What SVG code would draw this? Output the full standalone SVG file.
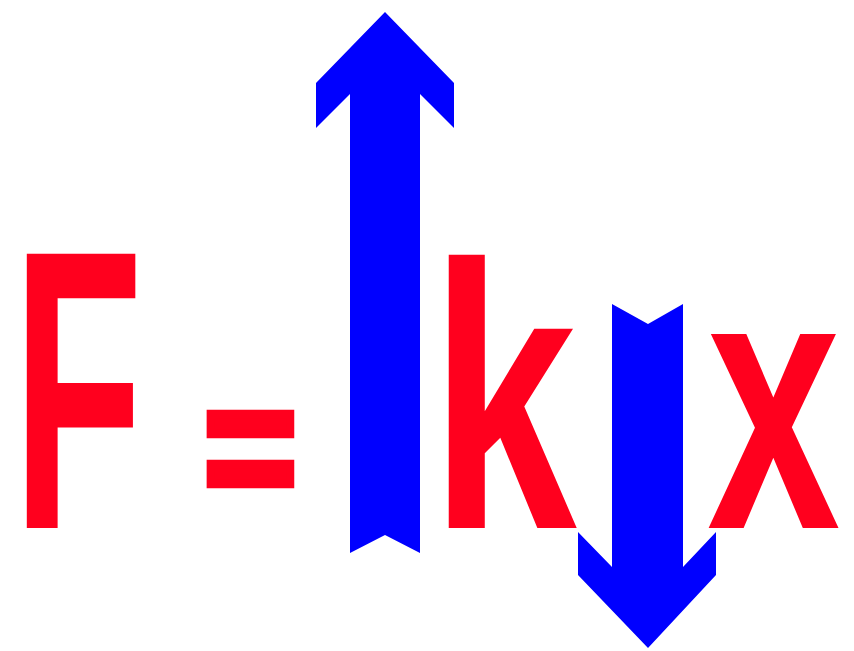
<svg xmlns="http://www.w3.org/2000/svg" width="854" height="651" viewBox="0 0 854 651">
<style>
.eq{font-family:"Liberation Sans",Arial,sans-serif;font-weight:bold;font-size:384px;fill:#ff001e}
.arrow{fill:#0000ff}
</style>
<rect width="854" height="651" fill="#ffffff"/>
<g id="formula">
<text class="eq" transform="translate(12.5,528) scale(0.557,1.038)">F</text>
<text class="eq" style="font-size:240px;stroke:#ff001e;stroke-width:11.2px;stroke-linejoin:miter" transform="translate(203.8,509.7) scale(0.666,0.766)">=</text>
<text class="eq" transform="translate(430.4,528) scale(0.684,0.982)">k</text>
<text class="eq" transform="translate(707,528) scale(0.624,0.956)">x</text>
</g>
<g id="arrows">
<polygon id="arrow-up" class="arrow" points="385,12 454,83 454,128 420,94 420,553 385,535 350,553 350,94 316,128 316,83"/>
<polygon id="arrow-down" class="arrow" points="612,304 648,324 683,304 683,567 716,532 716,575 648,648 578,575 578,532 612,567"/>
</g>
</svg>
